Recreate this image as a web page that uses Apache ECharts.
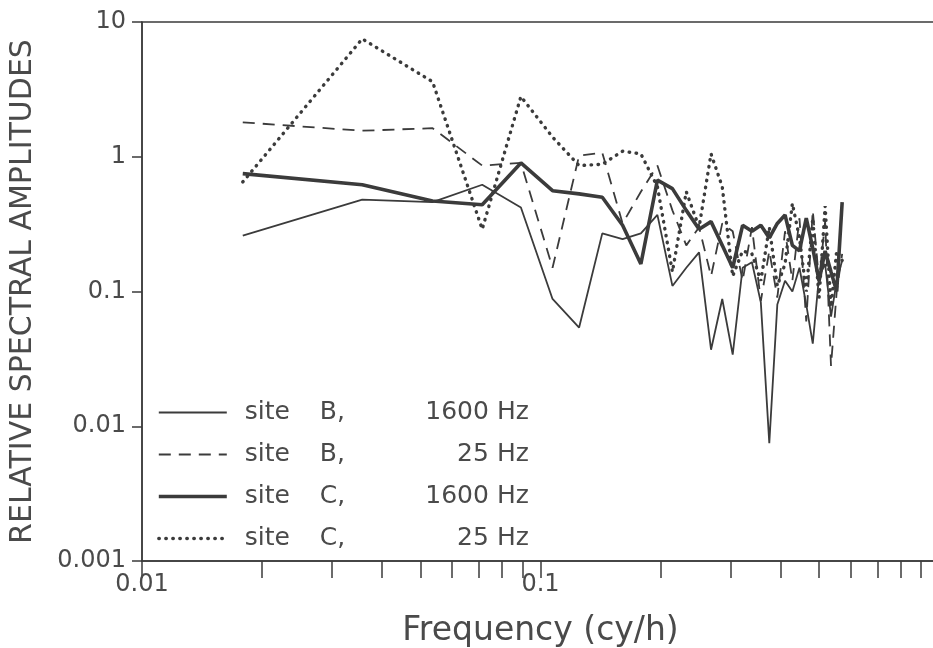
<!DOCTYPE html>
<html>
<head>
<meta charset="utf-8">
<title>Relative spectral amplitudes</title>
<script src="https://cdn.jsdelivr.net/npm/echarts@6/dist/echarts.min.js"></script>
<style>
  html, body { margin: 0; padding: 0; background: #fff; }
  #chart { width: 933px; height: 648px; }
</style>
</head>
<body>
<div id="chart"></div>
<script>
// frequencies (cy/h), harmonics of the record length
const freq = [0.0179, 0.0357, 0.0536, 0.0714, 0.0893, 0.1072, 0.1250, 0.1429,
  0.1607, 0.1786, 0.1965, 0.2143, 0.2322, 0.2500, 0.2679, 0.2858,
  0.3036, 0.3215, 0.3393, 0.3572, 0.3751, 0.3929, 0.4108, 0.4286,
  0.4465, 0.4644, 0.4822, 0.5001, 0.5179, 0.5358, 0.5537, 0.5715]

// relative spectral amplitudes
const siteB1600 = [0.26, 0.48, 0.46, 0.62, 0.42, 0.088, 0.054, 0.27,
  0.245, 0.27, 0.37, 0.11, 0.15, 0.195, 0.037, 0.088,
  0.034, 0.15, 0.165, 0.083, 0.0075, 0.08, 0.12, 0.10,
  0.15, 0.08, 0.041, 0.13, 0.16, 0.065, 0.12, 0.17]
const siteB25 = [1.8, 1.56, 1.63, 0.86, 0.90, 0.15, 1.02, 1.07,
  0.32, 0.55, 0.86, 0.40, 0.22, 0.30, 0.13, 0.32,
  0.28, 0.12, 0.30, 0.085, 0.20, 0.09, 0.28, 0.12,
  0.35, 0.06, 0.40, 0.12, 0.33, 0.028, 0.10, 0.19]
const siteC1600 = [0.75, 0.62, 0.47, 0.44, 0.90, 0.56, 0.53, 0.50,
  0.31, 0.16, 0.67, 0.58, 0.40, 0.29, 0.33, 0.22,
  0.15, 0.31, 0.28, 0.31, 0.25, 0.32, 0.37, 0.22,
  0.20, 0.35, 0.21, 0.12, 0.20, 0.14, 0.10, 0.46]
const siteC25 = [0.65, 7.5, 3.6, 0.29, 2.8, 1.4, 0.86, 0.88,
  1.10, 1.05, 0.60, 0.14, 0.55, 0.30, 1.05, 0.60,
  0.13, 0.20, 0.19, 0.12, 0.30, 0.11, 0.16, 0.45,
  0.25, 0.10, 0.35, 0.09, 0.43, 0.077, 0.20, 0.17]

const xLabels = [0.01, 0.1]
const xTicks = [0.01, 0.02, 0.03, 0.04, 0.05, 0.06, 0.07, 0.08, 0.09,
  0.1, 0.2, 0.3, 0.4, 0.5, 0.6, 0.7, 0.8, 0.9, 1]
const yLabels = [0.001, 0.01, 0.1, 1, 10]

const ink = '#3b3b3b'
const textInk = '#4a4a4a'
const font = 'DejaVu Sans'

const thin = { color: ink, width: 1.8 }
const dashed = { color: ink, width: 1.8, type: [12, 8] }
const thick = { color: ink, width: 3.6 }
const dotted = { color: ink, width: 3.4, type: [0.5, 6.5], cap: 'round' }

function pairs(values) {
  return freq.map((f, i) => [f, values[i]])
}

const chart = echarts.init(document.getElementById('chart'), null, { renderer: 'canvas' })

chart.setOption({
  animation: false,
  backgroundColor: '#fff',
  grid: {
    left: 142,
    top: 22,
    width: 797, // x = 1 sits just past the right edge of the picture
    bottom: 87,
    outerBoundsMode: 'none',
    containLabel: false,
    show: true,
    borderColor: ink,
    borderWidth: 1.5
  },
  legend: {
    orient: 'vertical',
    left: 152,
    top: 395,
    itemWidth: 68,
    itemHeight: 14,
    itemGap: 17,
    itemStyle: { opacity: 0 },
    data: [
      { name: 'site B, 1600 Hz', lineStyle: thin },
      { name: 'site B, 25 Hz', lineStyle: dashed },
      { name: 'site C, 1600 Hz', lineStyle: thick },
      { name: 'site C, 25 Hz', lineStyle: dotted }
    ],
    formatter: name => {
      const m = name.match(/site (\w), (.*)/)
      return '{a|site}{b|' + m[1] + ',}{c|' + m[2] + '}'
    },
    textStyle: {
      color: textInk,
      fontFamily: font,
      fontSize: 25,
      rich: {
        a: { fontFamily: font, fontSize: 25, color: textInk, width: 75, padding: [0, 0, 0, 13] },
        b: { fontFamily: font, fontSize: 25, color: textInk, width: 44 },
        c: { fontFamily: font, fontSize: 25, color: textInk, width: 165, align: 'right' }
      }
    }
  },
  xAxis: {
    type: 'log',
    logBase: 10,
    min: 0.01,
    max: 1,
    name: 'Frequency (cy/h)',
    nameLocation: 'middle',
    nameGap: 54,
    nameTextStyle: { color: textInk, fontFamily: font, fontSize: 33 },
    axisLine: { lineStyle: { color: ink, width: 1.5 } },
    axisTick: { customValues: xTicks, length: 17, lineStyle: { color: ink, width: 1.5 } },
    axisLabel: {
      customValues: xLabels,
      margin: 12,
      color: textInk,
      fontFamily: font,
      fontSize: 24,
      formatter: v => String(v)
    },
    splitLine: { show: false },
    minorTick: { show: false }
  },
  yAxis: {
    type: 'log',
    logBase: 10,
    min: 0.001,
    max: 10,
    name: 'RELATIVE SPECTRAL AMPLITUDES',
    nameLocation: 'middle',
    nameRotate: 90,
    nameGap: 104,
    nameTextStyle: { color: textInk, fontFamily: font, fontSize: 30 },
    axisLine: { show: true, lineStyle: { color: ink, width: 1.5 } },
    axisTick: { customValues: yLabels, length: 10, lineStyle: { color: ink, width: 1.5 } },
    axisLabel: {
      customValues: yLabels,
      margin: 16,
      color: textInk,
      fontFamily: font,
      fontSize: 24,
      formatter: v => String(v)
    },
    splitLine: { show: false }
  },
  series: [{
    name: 'site B, 1600 Hz',
    type: 'line',
    symbol: 'none',
    data: pairs(siteB1600),
    itemStyle: { color: ink },
    lineStyle: thin,
    z: 3
  }, {
    name: 'site B, 25 Hz',
    type: 'line',
    symbol: 'none',
    data: pairs(siteB25),
    itemStyle: { color: ink },
    lineStyle: dashed,
    z: 2
  }, {
    name: 'site C, 1600 Hz',
    type: 'line',
    symbol: 'none',
    data: pairs(siteC1600),
    itemStyle: { color: ink },
    lineStyle: thick,
    z: 4
  }, {
    name: 'site C, 25 Hz',
    type: 'line',
    symbol: 'none',
    data: pairs(siteC25),
    itemStyle: { color: ink },
    lineStyle: dotted,
    z: 1
  }]
})
</script>
</body>
</html>
